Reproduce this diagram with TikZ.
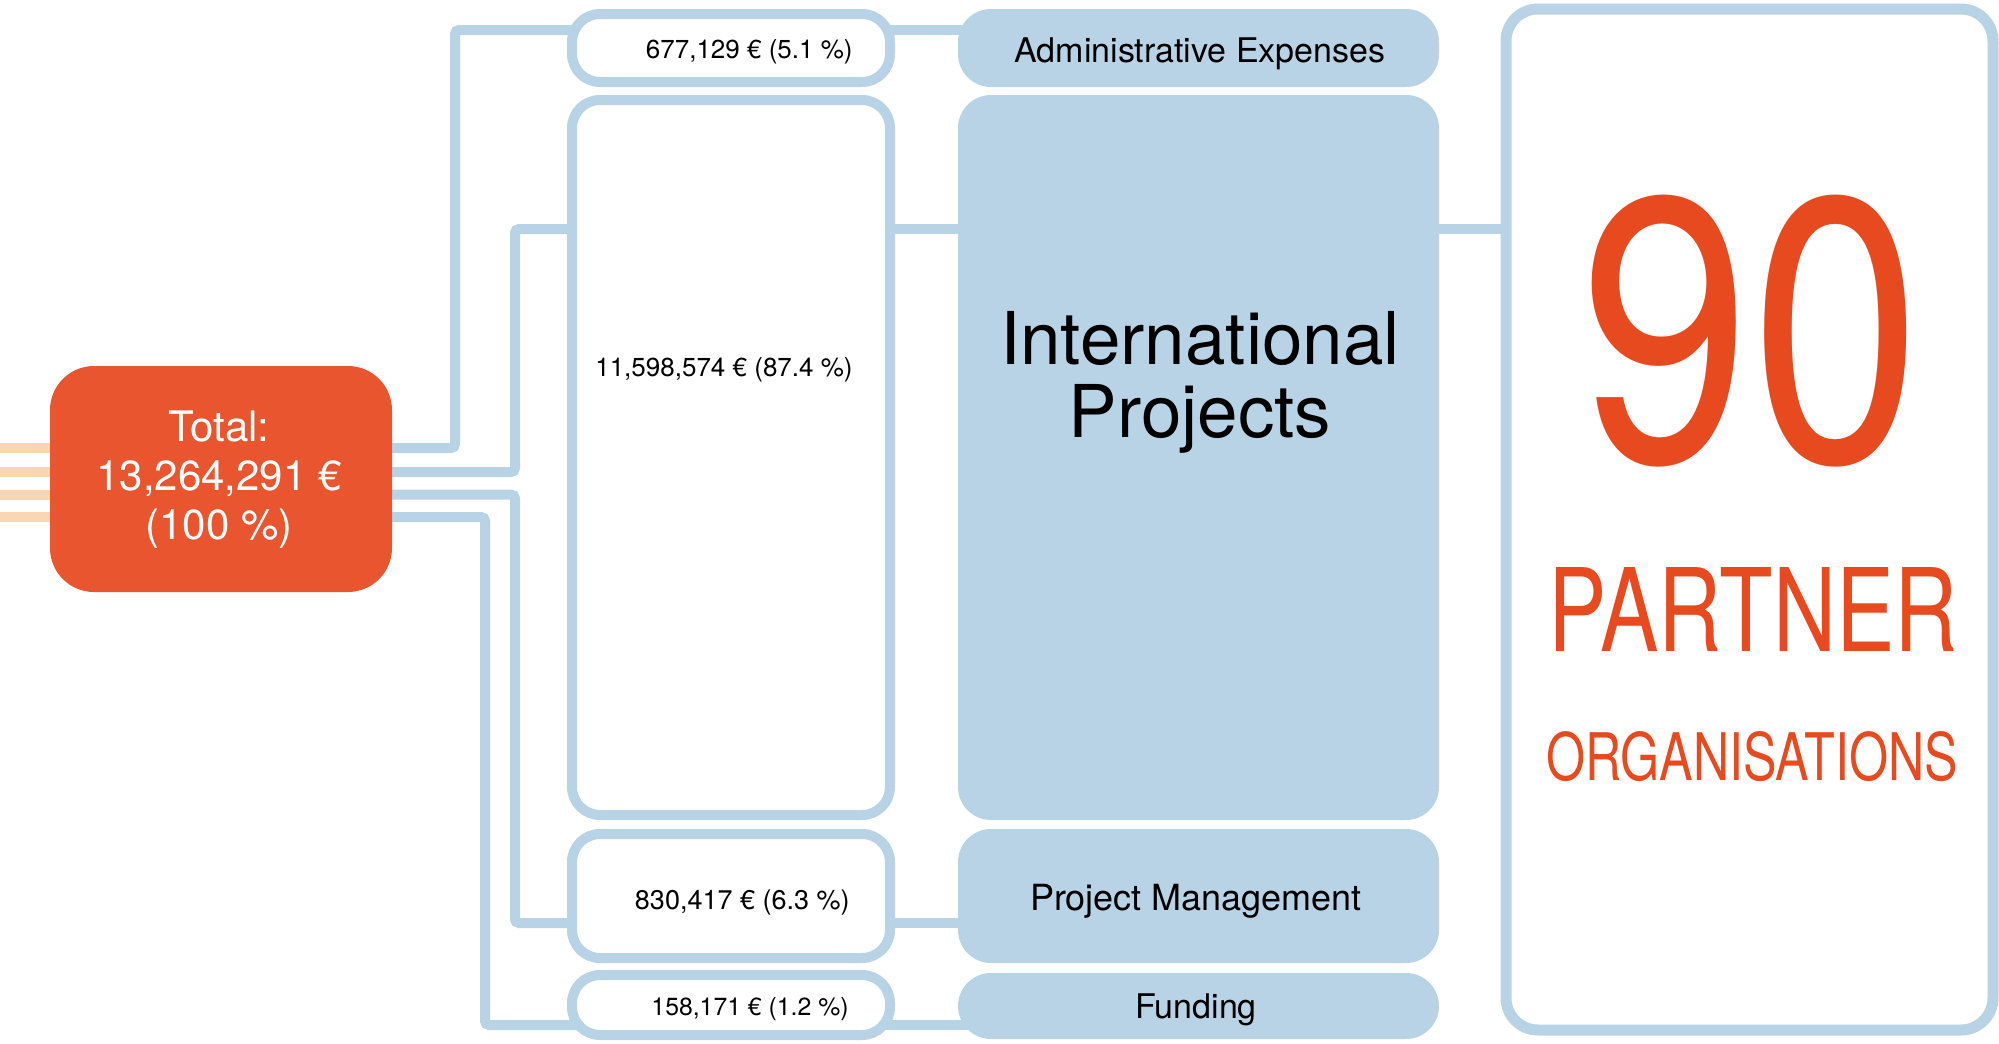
\documentclass[tikz,border=0pt]{standalone}
\usepackage{fontspec}
\setmainfont{TeX Gyre Heros}
\usepackage{graphicx}
\usetikzlibrary{backgrounds}
\definecolor{torange}{HTML}{E8552F}
\definecolor{bigred}{HTML}{E84A1F}
\definecolor{peach}{HTML}{FBD6B2}
\definecolor{lblue}{HTML}{B8D3E6}
\begin{document}
\begin{tikzpicture}[x=0.5pt,y=-0.5pt,
  conn/.style={draw=lblue,line width=5pt,rounded corners=2pt},
  stub/.style={draw=peach,line width=5pt},
  amtbox/.style={draw=lblue,line width=5pt,fill=white,rounded corners=14pt,minimum width=159pt,inner sep=0pt},
  catbox/.style={fill=lblue,rounded corners=16.5pt,minimum width=240.5pt,inner sep=0pt},
  amt/.style={anchor=base east,inner sep=0pt,font=\fontsize{13pt}{15pt}\selectfont},
  cat/.style={anchor=base,inner sep=0pt,font=\fontsize{17pt}{20pt}\selectfont},
  bigcat/.style={anchor=base,inner sep=0pt,font=\fontsize{36.4pt}{37pt}\selectfont},
  tot/.style={anchor=base,inner sep=0pt,text=white,font=\fontsize{21pt}{24pt}\selectfont},
  big/.style={anchor=base,inner sep=0pt,text=bigred}]
\useasboundingbox (0,0) rectangle (1999,1044);

% boxes
\node[fill=torange,rounded corners=22pt,minimum width=171pt,minimum height=113pt,inner sep=0pt] (total) at (221,479) {};

\node[amtbox,minimum height=34pt] (adminamt) at (731,48) {};
\node[amtbox,minimum height=357.5pt] (intlamt) at (731,457.5) {};
\node[amtbox,minimum height=62pt] (pmamt) at (731,896) {};
\node[amtbox,minimum height=30pt] (fundamt) at (731,1005) {};

\node[catbox,minimum height=39pt] (admin) at (1198.5,48) {};
\node[catbox,minimum height=362.5pt] (intl) at (1198.5,457.5) {};
\node[catbox,minimum height=67pt] (pm) at (1198.5,896) {};
\node[catbox,minimum height=33pt] (fund) at (1198.5,1006) {};

\node[draw=lblue,line width=5.5pt,fill=white,rounded corners=16pt,minimum width=243.5pt,minimum height=510.5pt,inner sep=0pt] (partner) at (1749.5,519.5) {};

% texts
\node[tot] (tot1) at (219,441) {Total:};
\node[tot] (tot2) at (219,490) {13,264,291 €};
\node[tot] (tot3) at (219,539) {(100 \%)};

\node[amt] (adminamtl) at (853,58) {677,129 € (5.1 \%)};
\node[amt] (intlamtl) at (853,376) {11,598,574 € (87.4 \%)};
\node[amt,font=\fontsize{13.5pt}{15pt}\selectfont] (pmamtl) at (850,909) {830,417 € (6.3 \%)};
\node[amt,font=\fontsize{12.4pt}{15pt}\selectfont] (fundamtl) at (849,1015) {158,171 € (1.2 \%)};

\node[cat] (adminl) at (1200,62) {Administrative Expenses};
\node[bigcat] (intl1) at (1200,364) {International};
\node[bigcat] (intl2) at (1200,437) {Projects};
\node[cat,font=\fontsize{18pt}{20pt}\selectfont] (pml) at (1196,910) {Project Management};
\node[cat] (fundl) at (1196,1018) {Funding};

\node[big] (ninety) at (1751,461) {\resizebox{170pt}{133pt}{90}};
\node[big] (partnerl) at (1753.5,651) {\resizebox{204.5pt}{42pt}{PARTNER}};
\node[big] (orgl) at (1752,780) {\resizebox{206pt}{24.5pt}{ORGANISATIONS}};

% connectors
\coordinate (t1) at (0,448);
\coordinate (t2) at (0,472);
\coordinate (t3) at (0,494.5);
\coordinate (t4) at (0,517);
\coordinate (j1) at (455,30);
\coordinate (j2) at (515,229);
\coordinate (j3) at (515,923);
\coordinate (j4) at (485,1025);
\begin{scope}[on background layer]
\draw[stub] (t1) -- (total.center |- t1);
\draw[stub] (t2) -- (total.center |- t2);
\draw[stub] (t3) -- (total.center |- t3);
\draw[stub] (t4) -- (total.center |- t4);
\draw[conn] (total.center |- t1) -| (j1) -- (adminamt.center |- j1);
\draw[conn] (total.center |- t2) -| (j2) -- (intlamt.center |- j2);
\draw[conn] (total.center |- t3) -| (j3) -- (pmamt.center |- j3);
\draw[conn] (total.center |- t4) -| (j4) -- (fundamt.center |- j4);
\draw[conn] (adminamt.center |- j1) -- (admin.center |- j1);
\draw[conn] (intlamt.center |- j2) -- (intl.center |- j2);
\draw[conn] (pmamt.center |- j3) -- (pm.center |- j3);
\draw[conn] (fundamt.center |- j4) -- (fund.center |- j4);
\draw[conn] (intl.center |- j2) -- (partner.center |- j2);
\end{scope}
\end{tikzpicture}
\end{document}
